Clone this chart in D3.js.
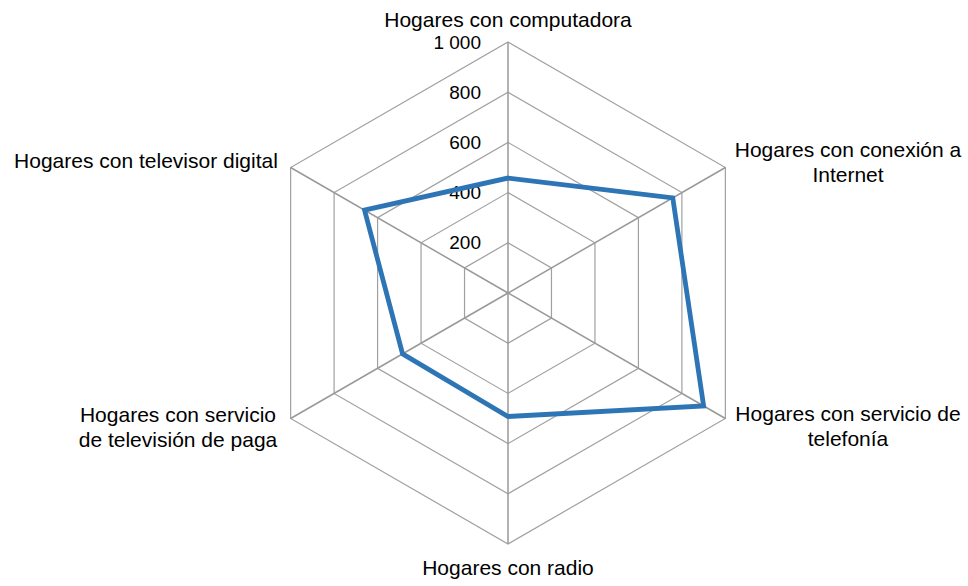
<!DOCTYPE html>
<html>
<head>
<meta charset="utf-8">
<script src="https://cdn.jsdelivr.net/npm/d3@7"></script>
<style>
  body { margin: 0; background: #fff; }
  text { font-family: "Liberation Sans", Arial, sans-serif; fill: #000; }
  .eje-label { font-size: 19px; }
  .cat-label { font-size: 21px; }
</style>
</head>
<body>
<div id="graf"></div>
<script>
// Datos
categorias = [
  ['Hogares con computadora'],
  ['Hogares con conexión a', 'Internet'],
  ['Hogares con servicio de', 'telefonía'],
  ['Hogares con radio'],
  ['Hogares con servicio', 'de televisión de paga'],
  ['Hogares con televisor digital']
]
valores = [458, 758, 900, 492, 485, 660]
ticks = [200, 400, 600, 800, 1000]
tickLabels = ['200', '400', '600', '800', '1 000']

ancho_total = 968
alto_total = 586
centro = { x: 508, y: 293 }
radio = 251

svg = d3.select('#graf').append('svg')
        .attr('width', ancho_total)
        .attr('height', alto_total)

g = svg.append('g')
       .attr('transform', `translate(${ centro.x }, ${ centro.y })`)

r = d3.scaleLinear().domain([0, 1000]).range([0, radio])
angulo = i => i * Math.PI * 2 / categorias.length

punto = (i, v) => [Math.sin(angulo(i)) * r(v), -Math.cos(angulo(i)) * r(v)]

// Anillos
ticks.forEach(t => {
  g.append('polygon')
   .attr('points', categorias.map((c, i) => punto(i, t).join(',')).join(' '))
   .attr('fill', 'none')
   .attr('stroke', '#a0a0a0')
   .attr('stroke-width', 1.2)
})

// Ejes
categorias.forEach((c, i) => {
  p = punto(i, 1000)
  g.append('line')
   .attr('x1', 0).attr('y1', 0)
   .attr('x2', p[0]).attr('y2', p[1])
   .attr('stroke', '#999')
   .attr('stroke-width', 1.5)
})

// Etiquetas de valores
ticks.forEach((t, k) => {
  g.append('text')
   .attr('class', 'eje-label')
   .attr('x', -27)
   .attr('y', -r(t))
   .attr('dy', '0.35em')
   .attr('text-anchor', 'end')
   .text(tickLabels[k])
})

// Serie
linea = d3.line().curve(d3.curveLinearClosed)
g.append('path')
 .attr('d', linea(valores.map((v, i) => punto(i, v))))
 .attr('fill', 'none')
 .attr('stroke', '#2E75B6')
 .attr('stroke-width', 4.8)
 .attr('stroke-linejoin', 'miter')

// Etiquetas de categorias
posEtiquetas = [
  { x: 0, y: -266 },
  { x: 340, y: -136 },
  { x: 340, y: 128 },
  { x: 0, y: 282 },
  { x: -330, y: 129 },
  { x: -362, y: -125 }
]
categorias.forEach((c, i) => {
  pos = posEtiquetas[i]
  txt = g.append('text')
         .attr('class', 'cat-label')
         .attr('text-anchor', 'middle')
         .attr('x', pos.x)
         .attr('y', pos.y)
  c.forEach((l, j) => {
    txt.append('tspan')
       .attr('x', pos.x)
       .attr('dy', j == 0 ? 0 : 25)
       .text(l)
  })
})
</script>
</body>
</html>
